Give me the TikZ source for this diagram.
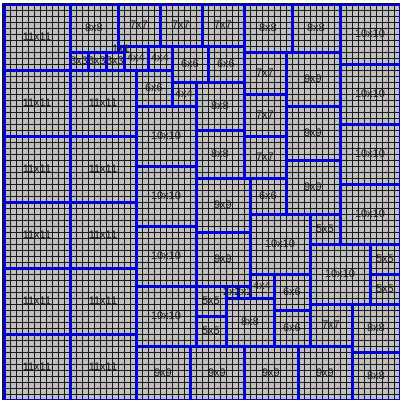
\documentclass[tikz,border=0pt]{standalone}
\usepackage{fontspec}
\setmainfont{Liberation Sans}
\definecolor{cellgray}{HTML}{C0C0C0}
\definecolor{gridline}{HTML}{181818}
\definecolor{sqblue}{HTML}{0000D8}
\definecolor{labelgray}{HTML}{1E1E1E}
\tikzset{
  sqborder/.style={draw=sqblue, line width=3pt},
  gridl/.style={draw=gridline, line width=0.95pt},
  sqlabel/.style={font=\fontsize{11}{12}\selectfont, text=labelgray, inner sep=0pt}
}
\begin{document}
\begin{tikzpicture}[x=1pt,y=-1pt]
\useasboundingbox (0,0) rectangle (400,400);
\fill[cellgray] (4,4) rectangle (400,400);
\def\squares{0/0/11,0/11/11,0/22/11,0/33/11,0/44/11,0/55/11,11/11/11,11/22/11,11/33/11,11/44/11,11/55/11,
56/0/10,56/10/10,56/20/10,56/30/10,22/17/10,22/27/10,22/37/10,22/47/10,41/35/10,51/40/10,
47/8/9,47/17/9,47/26/9,32/29/9,32/38/9,22/57/9,31/57/9,40/57/9,49/57/9,
11/0/8,40/0/8,48/0/8,32/13/8,32/21/8,37/49/8,58/50/8,58/58/8,
19/0/7,26/0/7,33/0/7,40/8/7,40/15/7,40/22/7,51/50/7,
28/7/6,34/7/6,22/11/6,41/29/6,45/45/6,45/51/6,
32/47/5,32/52/5,51/35/5,61/40/5,61/45/5,
20/7/4,24/7/4,28/13/4,41/45/4,
11/8/3,14/8/3,17/8/3,
37/47/2,39/47/2,
19/7/1}
\foreach \k in {0,...,66} {
  \draw[gridl] ({4+6*\k},4) -- ({4+6*\k},400);
  \draw[gridl] (4,{4+6*\k}) -- (400,{4+6*\k});
}
\foreach \c/\r/\n in \squares {
  \draw[sqborder] ({4+6*\c},{4+6*\r}) rectangle ({4+6*(\c+\n)},{4+6*(\r+\n)});
}
\draw[gridline, line width=1pt] (3,3) -- (400,3) (3,3) -- (3,400);
\foreach \c/\r/\n [count=\i] in \squares {
  \node[sqlabel] (q\i) at ({4+6*(\c+\n/2)},{4+6*(\r+\n/2)}) {\n x\n};
}
\end{tikzpicture}
\end{document}
